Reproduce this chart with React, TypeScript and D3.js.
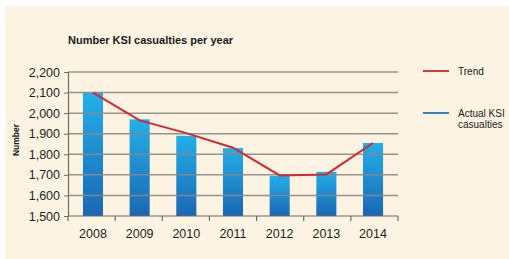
import * as d3 from "d3";
import { useEffect, useRef } from "react";

const years = ["2008", "2009", "2010", "2011", "2012", "2013", "2014"];
const actual = [2100, 1970, 1890, 1830, 1695, 1715, 1855];
const trend = [2100, 1965, 1903, 1832, 1697, 1702, 1855];
const yTicks = [1500, 1600, 1700, 1800, 1900, 2000, 2100, 2200];

export default function App() {
  const ref = useRef<SVGSVGElement>(null);

  useEffect(() => {
    const svg = d3.select(ref.current);
    svg.selectAll("*").remove();

    const width = 509;
    const height = 259;
    const margin = { top: 72, right: 111, bottom: 43, left: 68 };
    const font = "'Liberation Sans', Arial, sans-serif";

    svg.attr("width", width).attr("height", height);

    // card background
    svg.append("rect")
      .attr("x", 5).attr("y", 6)
      .attr("width", width - 5).attr("height", height - 6)
      .attr("fill", "#fdf3e2");

    const defs = svg.append("defs");
    const grad = defs.append("linearGradient")
      .attr("id", "barGrad")
      .attr("x1", 0).attr("y1", 0).attr("x2", 0).attr("y2", 1);
    grad.append("stop").attr("offset", "0%").attr("stop-color", "#22b0ea");
    grad.append("stop").attr("offset", "100%").attr("stop-color", "#1b67b4");

    const x = d3.scaleBand()
      .domain(years)
      .range([margin.left, width - margin.right])
      .paddingInner(0.57)
      .paddingOuter(0.32);

    const y = d3.scaleLinear()
      .domain([1500, 2200])
      .range([height - margin.bottom, margin.top]);

    // title
    svg.append("text")
      .attr("x", margin.left)
      .attr("y", 44)
      .attr("font-family", font)
      .attr("font-weight", "bold")
      .attr("font-size", 11)
      .attr("fill", "#1a1a1a")
      .text("Number KSI casualties per year");

    // bars
    svg.append("g")
      .selectAll("rect")
      .data(actual)
      .join("rect")
      .attr("x", (d, i) => x(years[i])!)
      .attr("y", d => y(d))
      .attr("width", x.bandwidth())
      .attr("height", d => y(1500) - y(d))
      .attr("fill", "url(#barGrad)");

    // grid lines (drawn over the bars)
    svg.append("g")
      .selectAll("line")
      .data(yTicks.slice(1))
      .join("line")
      .attr("x1", margin.left)
      .attr("x2", width - margin.right)
      .attr("y1", d => y(d))
      .attr("y2", d => y(d))
      .attr("stroke", "#8c8782")
      .attr("stroke-opacity", 0.9)
      .attr("stroke-width", 1.5);

    // y axis
    const yAxis = svg.append("g")
      .attr("transform", `translate(${margin.left},0)`)
      .call(d3.axisLeft(y).tickValues(yTicks).tickFormat(d3.format(",")).tickSize(4).tickPadding(4));
    yAxis.select(".domain").attr("stroke", "#6e6a66").attr("stroke-width", 1.2);
    yAxis.selectAll(".tick line").attr("stroke", "#6e6a66");
    yAxis.selectAll("text")
      .attr("font-family", font)
      .attr("font-size", 12.5)
      .attr("fill", "#1e1e1e");

    // x axis: line with ticks at category boundaries
    const base = y(1500);
    svg.append("line")
      .attr("x1", margin.left).attr("x2", width - margin.right)
      .attr("y1", base).attr("y2", base)
      .attr("stroke", "#6e6a66").attr("stroke-width", 1.2);
    const step = (width - margin.right - margin.left) / years.length;
    const bounds = d3.range(years.length + 1).map(i => margin.left + i * step);
    svg.append("g")
      .selectAll("line")
      .data(bounds)
      .join("line")
      .attr("x1", d => d).attr("x2", d => d)
      .attr("y1", base).attr("y2", base + 5)
      .attr("stroke", "#6e6a66").attr("stroke-width", 1.2);
    svg.append("g")
      .selectAll("text")
      .data(years)
      .join("text")
      .attr("x", d => x(d)! + x.bandwidth() / 2)
      .attr("y", base + 22)
      .attr("text-anchor", "middle")
      .attr("font-family", font)
      .attr("font-size", 12.5)
      .attr("fill", "#1e1e1e")
      .text(d => d);

    // y label
    svg.append("text")
      .attr("transform", `translate(19,140) rotate(-90)`)
      .attr("text-anchor", "middle")
      .attr("font-family", font)
      .attr("font-weight", "bold")
      .attr("font-size", 8.5)
      .attr("fill", "#1a1a1a")
      .text("Number");

    // trend line
    const line = d3.line<number>()
      .x((d, i) => x(years[i])! + x.bandwidth() / 2)
      .y(d => y(d));
    svg.append("path")
      .datum(trend)
      .attr("d", line)
      .attr("fill", "none")
      .attr("stroke", "#d8262f")
      .attr("stroke-width", 2);

    // legend
    const lg = svg.append("g").attr("font-family", font).attr("font-size", 10).attr("fill", "#222");
    lg.append("line").attr("x1", 423).attr("x2", 449).attr("y1", 71).attr("y2", 71)
      .attr("stroke", "#d33a42").attr("stroke-width", 2);
    lg.append("text").attr("x", 458).attr("y", 74.5).text("Trend");
    lg.append("line").attr("x1", 423).attr("x2", 449).attr("y1", 113).attr("y2", 113)
      .attr("stroke", "#2f82c8").attr("stroke-width", 2);
    lg.append("text").attr("x", 458).attr("y", 116.5).text("Actual KSI");
    lg.append("text").attr("x", 458).attr("y", 128).text("casualties");
  }, []);

  return (
    <div style={{ position: "absolute", left: 0, top: 0 }}>
      <svg ref={ref} style={{ display: "block" }}></svg>
    </div>
  );
}
